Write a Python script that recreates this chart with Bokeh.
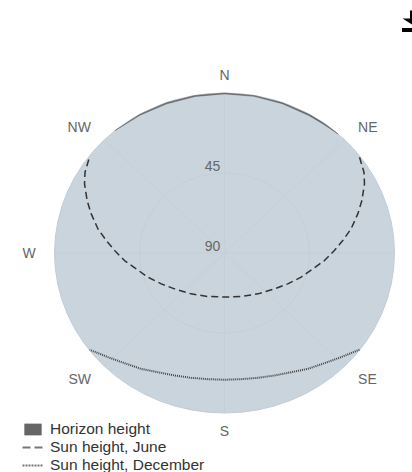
import numpy as np
from bokeh.plotting import figure
from bokeh.models import Range1d, Legend, LegendItem
from bokeh.core.properties import value
from bokeh.embed import file_html
from bokeh.resources import INLINE

compass_labels = ["N", "NE", "W", "SW", "S", "SE", "NW"]
compass_az = [0, 45, 270, 225, 180, 135, 315]
spoke_az = [0, 45, 90, 135, 180, 225, 270, 315]
ring_heights = [45, 90]
ring_labels = ["45", "90"]

horizon_az = [-40, -30, -20, -10, 0, 10, 20, 30, 36, 42]
horizon_h = [0, 0.5, 0.7, 0.6, 0.5, 0.5, 0.6, 0.7, 0.6, 0]

june_az = [53, 58.4, 62.3, 67.9, 72.6, 78.5, 83.6, 88.6, 94.6, 100.8, 108.5, 117.4, 127.3, 142.4, 160.2, 180,
           199.8, 217.6, 232.7, 242.6, 251.5, 259.2, 265.4, 271.4, 276.4, 281.5, 287.4, 292.1, 297.7, 301.6, 307]
june_h = [0.5, 3.3, 6.3, 11.5, 16, 21.6, 27, 31.8, 36.9, 42.4, 47.2, 52.3, 56.7, 61, 64, 65.2,
          64, 61, 56.7, 52.3, 47.2, 42.4, 36.9, 31.8, 27, 21.6, 16, 11.5, 6.3, 3.3, 0.5]

dec_az = [127.3, 133.5, 139.5, 145.9, 152.2, 159, 165.9, 173, 180,
          187, 194.1, 201, 207.8, 214.1, 220.5, 226.5, 232.7]
dec_h = [0.2, 4.9, 8.5, 11.3, 14.2, 16.2, 17.6, 18.5, 18.7,
         18.5, 17.6, 16.2, 14.2, 11.3, 8.5, 4.9, 0.2]

W, H = 412, 472
CX, CY = 224, 252.5
SX, SY = 170 / 90, 160 / 90

p = figure(width=W, height=H, output_backend="svg", toolbar_location=None,
           x_range=Range1d(-CX / SX, (W - CX) / SX),
           y_range=Range1d(-(H - CY) / SY, CY / SY),
           min_border=0, outline_line_color=None, background_fill_color="white",
           border_fill_color="white")
p.axis.visible = False
p.grid.visible = False


def pol(az, h):
    a = np.radians(np.asarray(az, dtype=float))
    r = 90 - np.asarray(h, dtype=float)
    return r * np.sin(a), r * np.cos(a)


def px(x, y):
    return (np.asarray(x, dtype=float) - CX) / SX, (CY - np.asarray(y, dtype=float)) / SY


p.ellipse(0, 0, width=180, height=180, fill_color="#c9d4dd", line_color="#c1cdd8", line_width=1)
sx, sy = pol(spoke_az, [0] * len(spoke_az))
p.segment(0, 0, sx, sy, line_color="#c4cfd9", line_width=1)
p.ellipse(0, 0, width=90, height=90, fill_color=None, line_color="#c4cfd9", line_width=1)

hx, hy = pol(horizon_az, horizon_h)
rx, ry = pol(horizon_az[::-1], [0] * len(horizon_az))
hz = p.patch(np.r_[hx, rx], np.r_[hy, ry], fill_color="#666666", line_color="#666666", line_width=0.5)

jx, jy = pol(june_az, june_h)
p.line(jx, jy, line_color="#333333", line_width=1.5, line_dash="7 4")
dx, dy = pol(dec_az, dec_h)
p.line(dx, dy, line_color="#444444", line_width=2, line_dash="1 1")

# compass labels
for lab, az in zip(compass_labels, compass_az):
    lx, ly = pol(az, -10)
    s = np.sin(np.radians(az))
    align = "center" if abs(s) < 0.01 else ("left" if s > 0 else "right")
    p.text([lx], [ly], text=[lab], text_align=align, text_baseline="middle",
           text_font=value("Liberation Sans"), text_font_size="14px", text_color="#666666")

# ring labels
tx, ty = pol([0, 0], ring_heights)
p.text(tx, ty, text=ring_labels, x_offset=-12, y_offset=-7, text_align="center", text_baseline="middle",
       text_font=value("Liberation Sans"), text_font_size="14px", text_color="#666666")

# export icon, cut off by the page edge as in the reference
ax, ay = px([409.5, 413, 413, 411.5, 402, 409.5], [10, 10, 23, 24, 18, 18])
p.patch(ax, ay, fill_color="black", line_color=None)
bx, by = px([401.5, 413, 413, 401.5], [27.5, 27.5, 31.5, 31.5])
p.patch(bx, by, fill_color="black", line_color=None)

# legend
lj = p.line([np.nan], [np.nan], line_color="#777777", line_width=2, line_dash="8 4")
ld = p.line([np.nan], [np.nan], line_color="#777777", line_width=2, line_dash="2 1")
legend = Legend(items=[LegendItem(label="Horizon height", renderers=[hz]),
                       LegendItem(label="Sun height, June", renderers=[lj]),
                       LegendItem(label="Sun height, December", renderers=[ld])],
                location=(22, -2), orientation="vertical", padding=0, margin=0, spacing=0,
                glyph_width=21, glyph_height=14, label_height=17, label_standoff=7,
                label_text_font="Liberation Sans", label_text_font_size="15.5px", label_text_color="#333333",
                background_fill_alpha=0, border_line_color=None)
p.add_layout(legend, "center")

open("out.html", "w").write(file_html(p, INLINE))
